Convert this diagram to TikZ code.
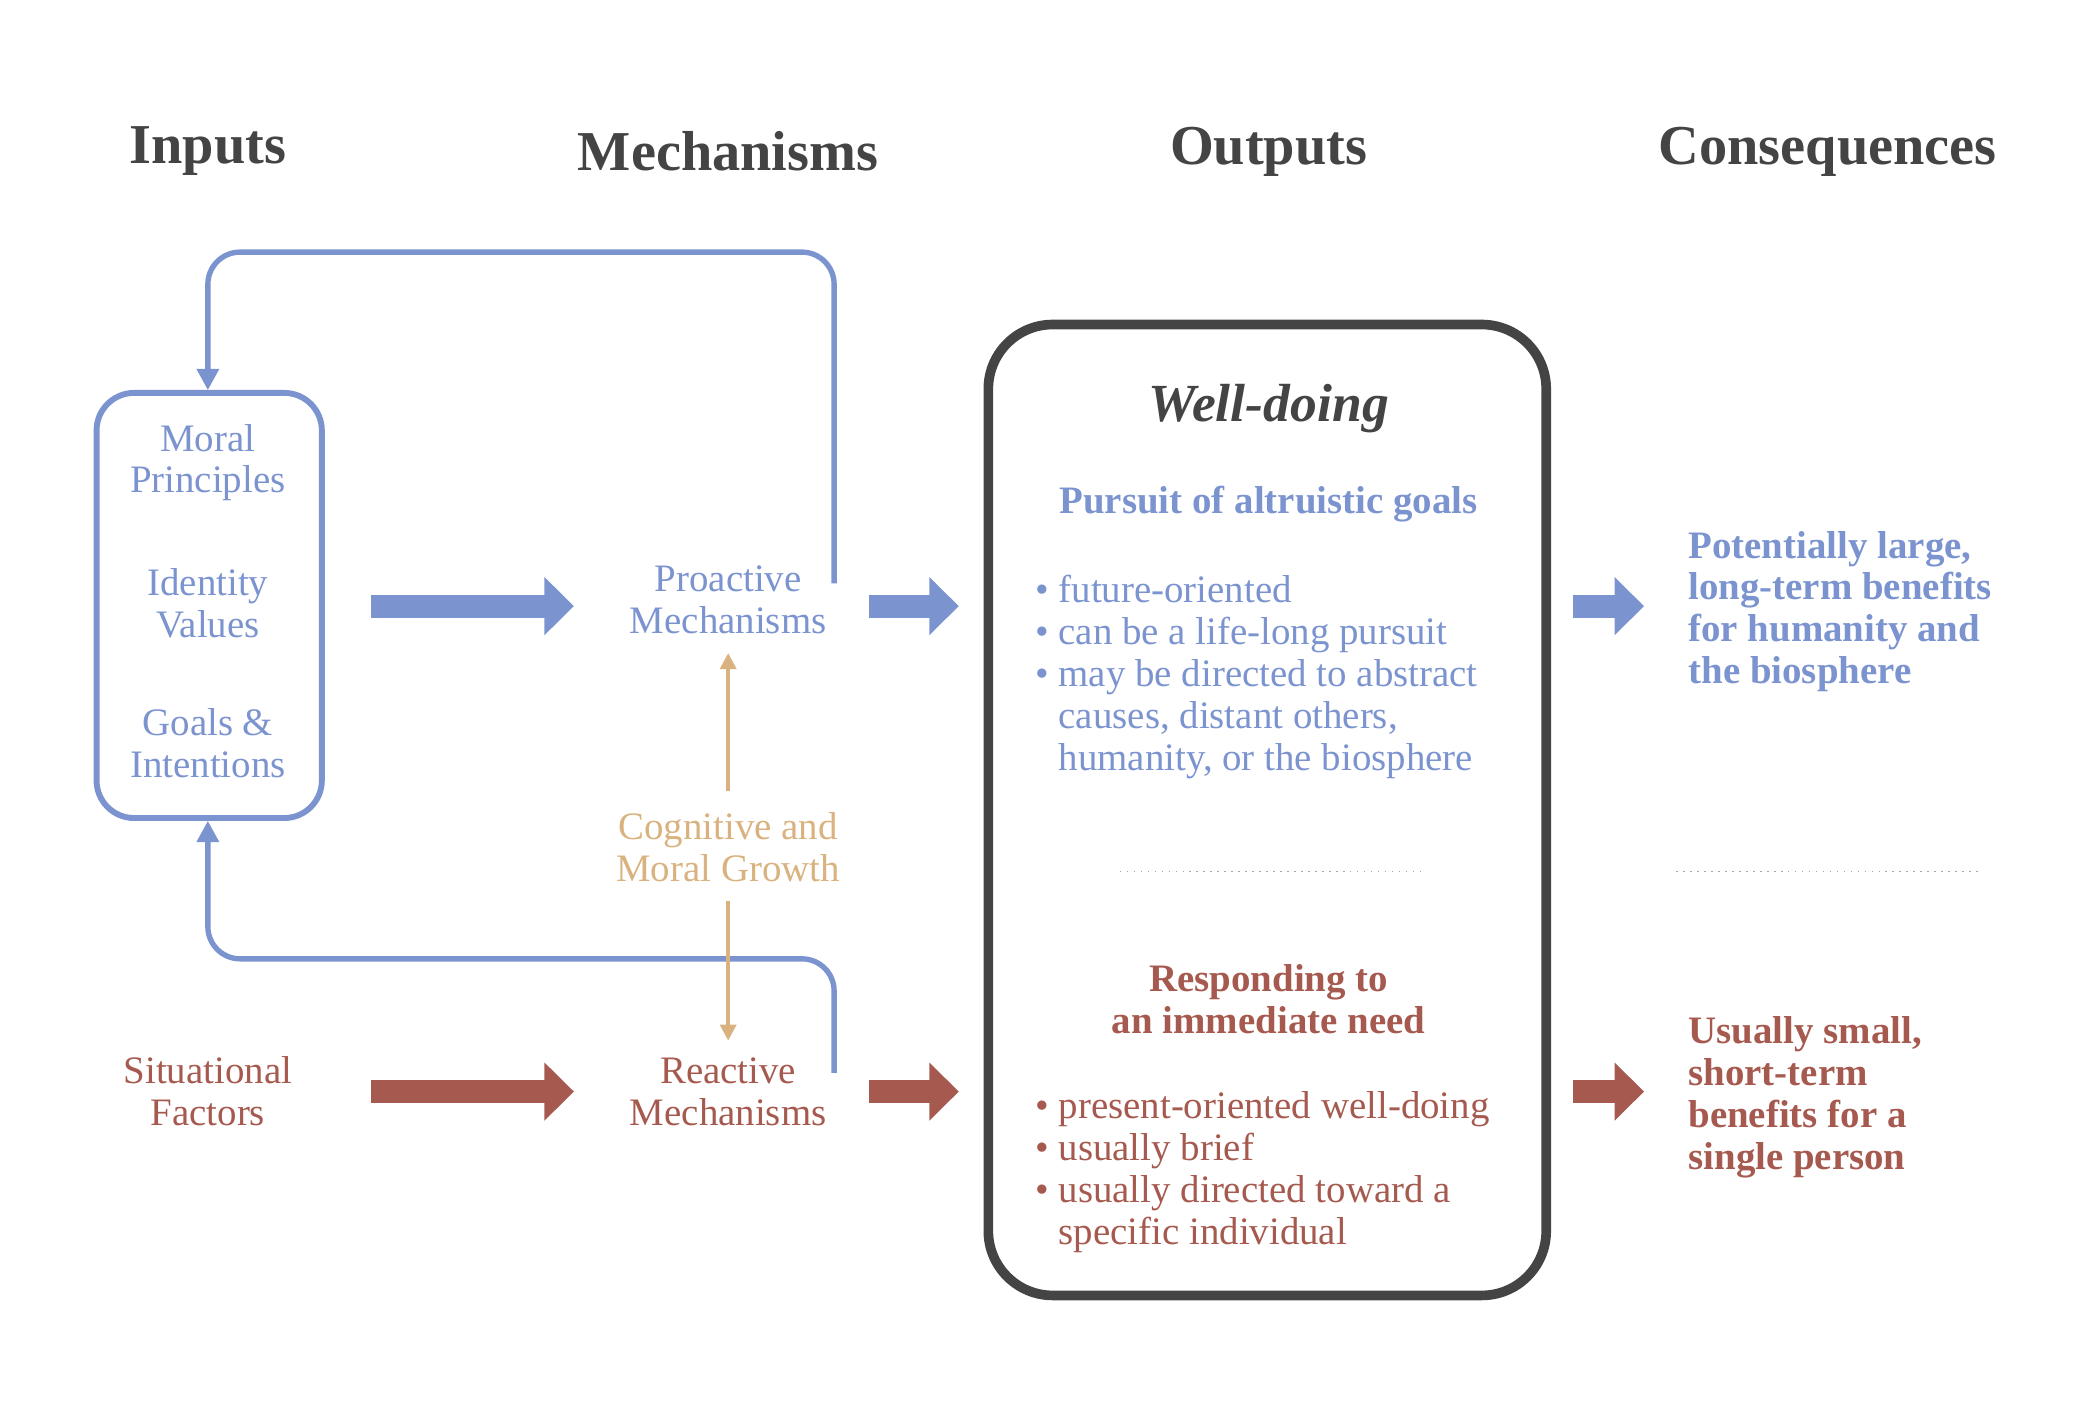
\documentclass[tikz,border=0pt]{standalone}
\usepackage{fontspec}
\setmainfont{Liberation Serif}
\usetikzlibrary{arrows.meta}
\definecolor{bl}{HTML}{7B93CF}
\definecolor{rd}{HTML}{A65A4F}
\definecolor{tn}{HTML}{D9B27F}
\definecolor{dk}{HTML}{444444}
\begin{document}
\begin{tikzpicture}[x=0.5pt,y=-0.5pt,
 head/.style={font=\fontsize{21}{25}\selectfont\bfseries,text=dk},
 txt/.style={font=\fontsize{14.5}{15.6}\selectfont,align=center},
 big/.style={line width=8.5pt,-{Triangle[length=11pt,width=21pt]}},
 fb/.style={line width=2pt,rounded corners=12pt,-{Triangle[length=8pt,width=8pt]}},
 bul/.style={font=\fontsize{14.5}{15.6}\selectfont,align=left,anchor=north west},
 cons/.style={font=\fontsize{14.5}{15.6}\selectfont\bfseries,align=left,anchor=north west}]
\useasboundingbox (0,0) rectangle (1560,1058);
\node[head] (h1) at (155,113) {Inputs};
\node[head] (h2) at (543,113) {Mechanisms};
\node[head] (h3) at (946,113) {Outputs};
\node[head] (h4) at (1363,113) {Consequences};
\draw[bl,line width=2.2pt,rounded corners=14pt] (72,293) rectangle (240,610);
\node[txt,text=bl] (mp) at (155,345) {Moral\\Principles};
\node[txt,text=bl] (iv) at (155,450) {Identity\\Values};
\node[txt,text=bl] (gi) at (155,554) {Goals \&\\Intentions};
\node[txt,text=rd] (sf) at (155,814) {Situational\\Factors};
\node[txt,text=bl] (pm) at (543,447) {Proactive\\Mechanisms};
\node[txt,text=rd] (rm) at (543,814) {Reactive\\Mechanisms};
\node[txt,text=tn] (cg) at (543,632) {Cognitive and\\Moral Growth};
\coordinate (a1) at (277,452); \coordinate (a2) at (428,452);
\coordinate (b1) at (277,814); \coordinate (b2) at (428,814);
\draw[big,bl] (a1) -- (a2);
\draw[big,rd] (b1) -- (b2);
\coordinate (c1) at (648,452); \coordinate (c2) at (715,452);
\coordinate (d1) at (648,814); \coordinate (d2) at (715,814);
\draw[big,bl] (c1) -- (c2);
\draw[big,rd] (d1) -- (d2);
\coordinate (e1) at (1173,452); \coordinate (e2) at (1226,452);
\coordinate (f1) at (1173,814); \coordinate (f2) at (1226,814);
\draw[big,bl] (e1) -- (e2);
\draw[big,rd] (f1) -- (f2);
\coordinate (p1) at (622,435); \coordinate (p2) at (155,291);
\draw[fb,bl] (p1) -- (622,188) -- (155,188) -- (p2);
\coordinate (q1) at (622,800); \coordinate (q2) at (155,612);
\draw[fb,bl] (q1) -- (622,715) -- (155,715) -- (q2);
\coordinate (t1) at (543,590); \coordinate (t2) at (543,487);
\coordinate (t3) at (543,672); \coordinate (t4) at (543,776);
\draw[tn,line width=1.3pt,-{Triangle[length=6pt,width=6pt]}] (t1) -- (t2);
\draw[tn,line width=1.3pt,-{Triangle[length=6pt,width=6pt]}] (t3) -- (t4);
\draw[dk,line width=3.6pt,rounded corners=24pt] (737,242) rectangle (1153,966);
\node[font=\fontsize{20}{24}\selectfont\bfseries\itshape,text=dk] (wd) at (946,305) {Well-doing};
\node[font=\fontsize{14.5}{15.6}\selectfont\bfseries,text=bl] (pa) at (946,376) {Pursuit of altruistic goals};
\node[bul,text=bl] (bl1) at (765,422) {\textbullet\ future-oriented\\\textbullet\ can be a life-long pursuit\\\textbullet\ may be directed to abstract\\\phantom{\textbullet\ }causes, distant others,\\\phantom{\textbullet\ }humanity, or the biosphere};
\draw[gray!70,dotted,line width=0.6pt] (835,650) -- (1060,650);
\draw[gray!70,dotted,line width=0.6pt] (1250,650) -- (1475,650);
\node[font=\fontsize{14.5}{15.6}\selectfont\bfseries,text=rd,align=center] (ri) at (946,745) {Responding to\\an immediate need};
\node[bul,text=rd] (bl2) at (765,807) {\textbullet\ present-oriented well-doing\\\textbullet\ usually brief\\\textbullet\ usually directed toward a\\\phantom{\textbullet\ }specific individual};
\node[cons,text=bl] (c3) at (1252,389) {Potentially large,\\long-term benefits\\for humanity and\\the biosphere};
\node[cons,text=rd] (c4) at (1252,751) {Usually small,\\short-term\\benefits for a\\single person};
\end{tikzpicture}
\end{document}
